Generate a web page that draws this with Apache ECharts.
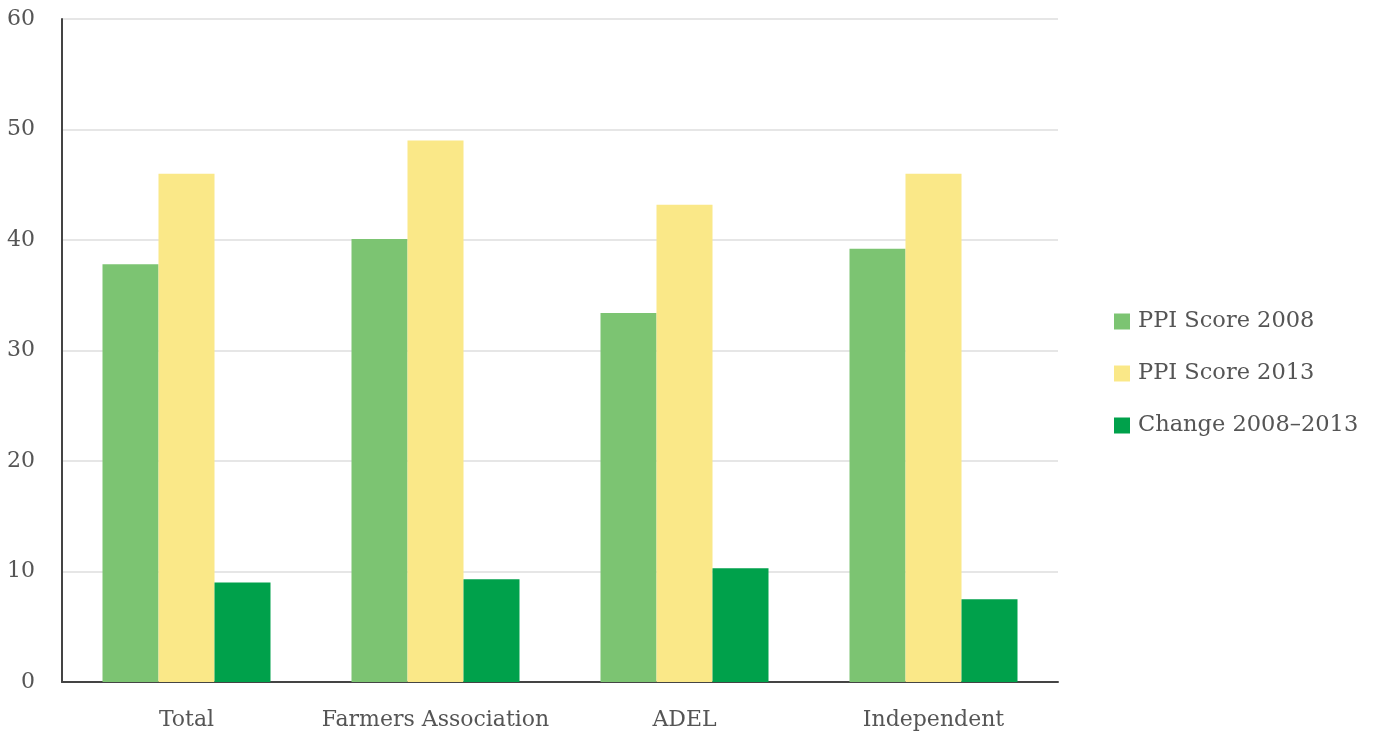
<!DOCTYPE html>
<html>
<head>
<meta charset="utf-8">
<script src="https://cdn.jsdelivr.net/npm/echarts@6/dist/echarts.min.js"></script>
<style>html,body{margin:0;padding:0;background:#fff}#c{width:1375px;height:734px}</style>
</head>
<body>
<div id="c"></div>
<script>
var categories = ['Total', 'Farmers Association', 'ADEL', 'Independent'];
var seriesNames = ['PPI Score 2008', 'PPI Score 2013', 'Change 2008\u20132013'];
var score2008 = [37.8, 40.1, 33.4, 39.2];
var score2013 = [46.0, 49.0, 43.2, 46.0];
var change = [9.0, 9.3, 10.3, 7.5];
var yTicks = [0, 10, 20, 30, 40, 50, 60];
var colors = ['#7cc472', '#fae888', '#00a14b'];

var FONT = 'DejaVu Serif';
var chart = echarts.init(document.getElementById('c'));
var dataSets = [score2008, score2013, change];
chart.setOption({
  animation: false,
  textStyle: {fontFamily: FONT},
  grid: {left: 62, right: 317, top: 19, bottom: 52, containLabel: false},
  legend: {
    orient: 'vertical', left: 1109, top: 305,
    itemWidth: 16, itemHeight: 16, itemGap: 29,
    icon: 'rect',
    textStyle: {fontFamily: FONT, fontSize: 22.5, color: '#555', padding: [0, 0, 0, 3]},
    data: seriesNames
  },
  xAxis: {
    type: 'category', data: categories,
    axisLine: {lineStyle: {color: '#444', width: 2}},
    axisTick: {show: false},
    axisLabel: {fontFamily: FONT, fontSize: 22, color: '#555', margin: 27, interval: 0}
  },
  yAxis: {
    type: 'value', min: yTicks[0], max: yTicks[yTicks.length - 1], interval: 10,
    axisLine: {show: true, lineStyle: {color: '#444', width: 2}},
    axisTick: {show: false},
    splitLine: {lineStyle: {color: '#dedede', width: 1.5}},
    axisLabel: {fontFamily: FONT, fontSize: 22, color: '#555', margin: 27}
  },
  series: seriesNames.map(function (n, i) {
    return {
      name: n, type: 'bar', data: dataSets[i],
      barWidth: 56, barGap: '0%',
      itemStyle: {color: colors[i]}
    };
  })
});
</script>
</body>
</html>
